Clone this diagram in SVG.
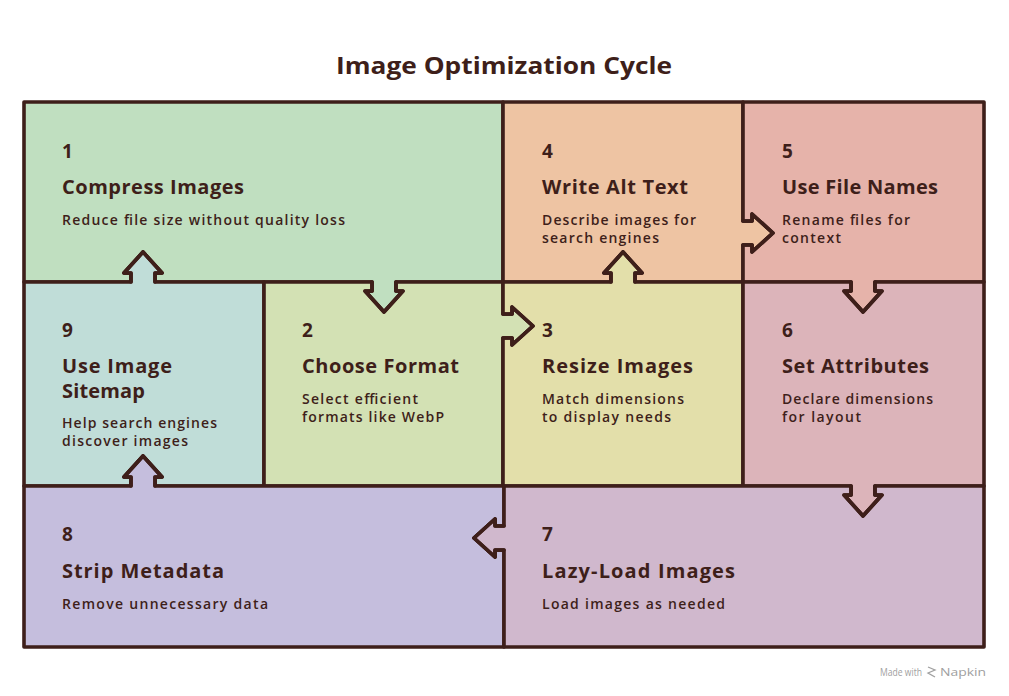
<svg xmlns="http://www.w3.org/2000/svg" width="1009" height="696" viewBox="0 0 1009 696">
<style>
.cell{stroke:#3e1f1a;stroke-width:3.6;stroke-linejoin:round;stroke-linecap:round}
.arr{fill:none;stroke:#3e1f1a;stroke-width:3.6;stroke-linejoin:round;stroke-linecap:round}
text{font-family:"Open Sans","Liberation Sans",sans-serif;fill:#3e1f1a}
.num{font-size:19px;font-weight:700}
.ttl{font-size:20px;font-weight:700}
.dsc{font-size:14px;font-weight:600}
.head{font-size:23px;font-weight:700}
.foot{font-size:11px;fill:#a0a0a0;font-weight:400}
</style>
<rect width="1009" height="696" fill="#ffffff"/>
<text class="head" x="504" y="74" text-anchor="middle" textLength="336" lengthAdjust="spacingAndGlyphs">Image Optimization Cycle</text>

<g id="node1">
<path class="cell" fill="#c0dfc0" d="M24,102 H503 V282 H396 V291 H403 L384,312 L365,291 H372 V282 H155 V273 H162 L143,252 L124,273 H131 V282 H24 Z"/>
<text class="num" x="62" y="158">1</text>
<text class="ttl" x="62" y="194" textLength="182">Compress Images</text>
<text class="dsc" x="62" y="225" textLength="283">Reduce file size without quality loss</text>
</g>

<g id="node4">
<path class="cell" fill="#eec4a3" d="M503,102 H743 V221 H752 V214 L773,233 L752,252 V245 H743 V282 H635 V273 H642 L623,252 L604,273 H611 V282 H503 Z"/>
<text class="num" x="542" y="158">4</text>
<text class="ttl" x="542" y="194" textLength="146">Write Alt Text</text>
<text class="dsc" x="542" y="225" textLength="154">Describe images for</text>
<text class="dsc" x="542" y="243" textLength="117">search engines</text>
</g>

<g id="node5">
<path class="cell" fill="#e6b3aa" d="M743,102 H984 V282 H875 V291 H882 L863,312 L844,291 H851 V282 H743 V245 H752 V252 L773,233 L752,214 V221 H743 Z"/>
<text class="num" x="782" y="158">5</text>
<text class="ttl" x="782" y="194" textLength="156">Use File Names</text>
<text class="dsc" x="782" y="225" textLength="128">Rename files for</text>
<text class="dsc" x="782" y="243" textLength="59">context</text>
</g>

<g id="node9">
<path class="cell" fill="#c0ddd8" d="M24,282 H131 V273 H124 L143,252 L162,273 H155 V282 H264 V486 H155 V477 H162 L143,456 L124,477 H131 V486 H24 Z"/>
<text class="num" x="62" y="337">9</text>
<text class="ttl" x="62" y="373" textLength="110">Use Image</text>
<text class="ttl" x="62" y="398" textLength="83">Sitemap</text>
<text class="dsc" x="62" y="428" textLength="155">Help search engines</text>
<text class="dsc" x="62" y="446" textLength="126">discover images</text>
</g>

<g id="node2">
<path class="cell" fill="#d3e1b4" d="M264,282 H372 V291 H365 L384,312 L403,291 H396 V282 H503 V314 H512 V307 L533,326 L512,345 V338 H503 V486 H264 Z"/>
<text class="num" x="302" y="337">2</text>
<text class="ttl" x="302" y="373" textLength="157">Choose Format</text>
<text class="dsc" x="302" y="404" textLength="116">Select efficient</text>
<text class="dsc" x="302" y="422" textLength="142">formats like WebP</text>
</g>

<g id="node3">
<path class="cell" fill="#e3dfaa" d="M503,282 H611 V273 H604 L623,252 L642,273 H635 V282 H743 V486 H503 V338 H512 V345 L533,326 L512,307 V314 H503 Z"/>
<text class="num" x="542" y="337">3</text>
<text class="ttl" x="542" y="373" textLength="151">Resize Images</text>
<text class="dsc" x="542" y="404" textLength="142">Match dimensions</text>
<text class="dsc" x="542" y="422" textLength="129">to display needs</text>
</g>

<g id="node6">
<path class="cell" fill="#dcb4ba" d="M743,282 H851 V291 H844 L863,312 L882,291 H875 V282 H984 V486 H875 V495 H882 L863,516 L844,495 H851 V486 H743 Z"/>
<text class="num" x="782" y="337">6</text>
<text class="ttl" x="782" y="373" textLength="147">Set Attributes</text>
<text class="dsc" x="782" y="404" textLength="151">Declare dimensions</text>
<text class="dsc" x="782" y="422" textLength="79">for layout</text>
</g>

<g id="node8">
<path class="cell" fill="#c5bedd" d="M24,486 H131 V477 H124 L143,456 L162,477 H155 V486 H504 V526 H495 V519 L474,538 L495,557 V550 H504 V647 H24 Z"/>
<text class="num" x="62" y="541">8</text>
<text class="ttl" x="62" y="578" textLength="162">Strip Metadata</text>
<text class="dsc" x="62" y="609" textLength="206">Remove unnecessary data</text>
</g>

<g id="node7">
<path class="cell" fill="#d0b8cd" d="M504,486 H851 V495 H844 L863,516 L882,495 H875 V486 H984 V647 H504 V550 H495 V557 L474,538 L495,519 V526 H504 Z"/>
<text class="num" x="542" y="541">7</text>
<text class="ttl" x="542" y="578" textLength="193">Lazy-Load Images</text>
<text class="dsc" x="542" y="609" textLength="183">Load images as needed</text>
</g>

<g id="connectors">
<polyline class="arr" points="372,282 372,291 365,291 384,312 403,291 396,291 396,282"/>
<polyline class="arr" points="503,314 512,314 512,307 533,326 512,345 512,338 503,338"/>
<polyline class="arr" points="611,282 611,273 604,273 623,252 642,273 635,273 635,282"/>
<polyline class="arr" points="743,221 752,221 752,214 773,233 752,252 752,245 743,245"/>
<polyline class="arr" points="851,282 851,291 844,291 863,312 882,291 875,291 875,282"/>
<polyline class="arr" points="851,486 851,495 844,495 863,516 882,495 875,495 875,486"/>
<polyline class="arr" points="504,526 495,526 495,519 474,538 495,557 495,550 504,550"/>
<polyline class="arr" points="131,486 131,477 124,477 143,456 162,477 155,477 155,486"/>
<polyline class="arr" points="131,282 131,273 124,273 143,252 162,273 155,273 155,282"/>
</g>

<g id="footer">
<text class="foot" x="880" y="676" textLength="42" lengthAdjust="spacingAndGlyphs">Made with</text>
<polyline points="928,667 935,670 928,673 935,677" fill="none" stroke="#a0a0a0" stroke-width="1.3"/>
<text class="foot" x="940" y="676" textLength="46" lengthAdjust="spacingAndGlyphs">Napkin</text>
</g>
</svg>
